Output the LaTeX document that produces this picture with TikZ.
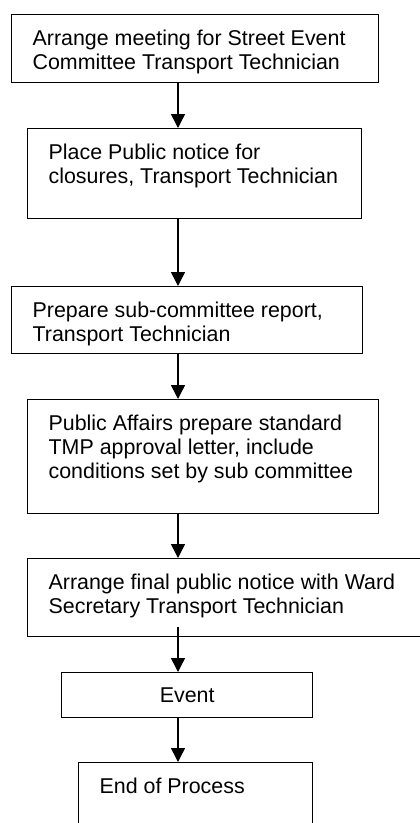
\documentclass[tikz,border=0pt]{standalone}
\usepackage{fontspec}
\setmainfont{Liberation Sans}
\usetikzlibrary{arrows.meta}

% text block of a step: width, height, lines
\newcommand{\steptext}[3]{\parbox[t][#2pt][t]{#1pt}{\leftskip=21pt\relax\vspace*{14pt}\strut #3}}

\tikzset{
  stepbox/.style={draw=black, line width=1.3pt, anchor=north west, inner sep=0pt,
    font=\fontsize{21.4}{24}\selectfont},
  flowarrow/.style={line width=1.5pt, -{Triangle[width=14pt,length=14pt]}}
}

\begin{document}
\begin{tikzpicture}[x=1pt,y=-1pt]
  \useasboundingbox (0,0) rectangle (420,823);
  \clip (0,0) rectangle (420,823);
  \coordinate (spine) at (178,0);

  % Steps
  \node[stepbox] (meet) at (11,14)
    {\steptext{367}{68}{Arrange meeting for Street Event\\Committee Transport Technician}};
  \node[stepbox] (notice) at (27,128)
    {\steptext{334}{90}{Place Public notice for\\closures, Transport Technician}};
  \node[stepbox] (report) at (11,286)
    {\steptext{351}{67}{Prepare sub-committee report,\\Transport Technician}};
  \node[stepbox] (letter) at (27,399)
    {\steptext{351}{114}{Public Affairs prepare standard\\TMP approval letter, include\\conditions set by sub committee}};
  \node[stepbox] (final) at (27,558)
    {\steptext{420}{78}{Arrange final public notice with Ward\\Secretary Transport Technician}};
  \node[stepbox, minimum width=251pt, minimum height=45pt] (event) at (61,672) {Event};
  \node[stepbox] (finish) at (78,762)
    {\steptext{234}{80}{End of Process}};

  % Arrows
  \path (final.south -| spine) ++(0,-10) coordinate (finalout);
  \draw[flowarrow] (meet.south -| spine) -- (notice.north -| spine);
  \draw[flowarrow] (notice.south -| spine) -- (report.north -| spine);
  \draw[flowarrow] (report.south -| spine) -- (letter.north -| spine);
  \draw[flowarrow] (letter.south -| spine) -- (final.north -| spine);
  \draw[flowarrow] (finalout) -- (event.north -| spine);
  \draw[flowarrow] (event.south -| spine) -- (finish.north -| spine);
\end{tikzpicture}
\end{document}
